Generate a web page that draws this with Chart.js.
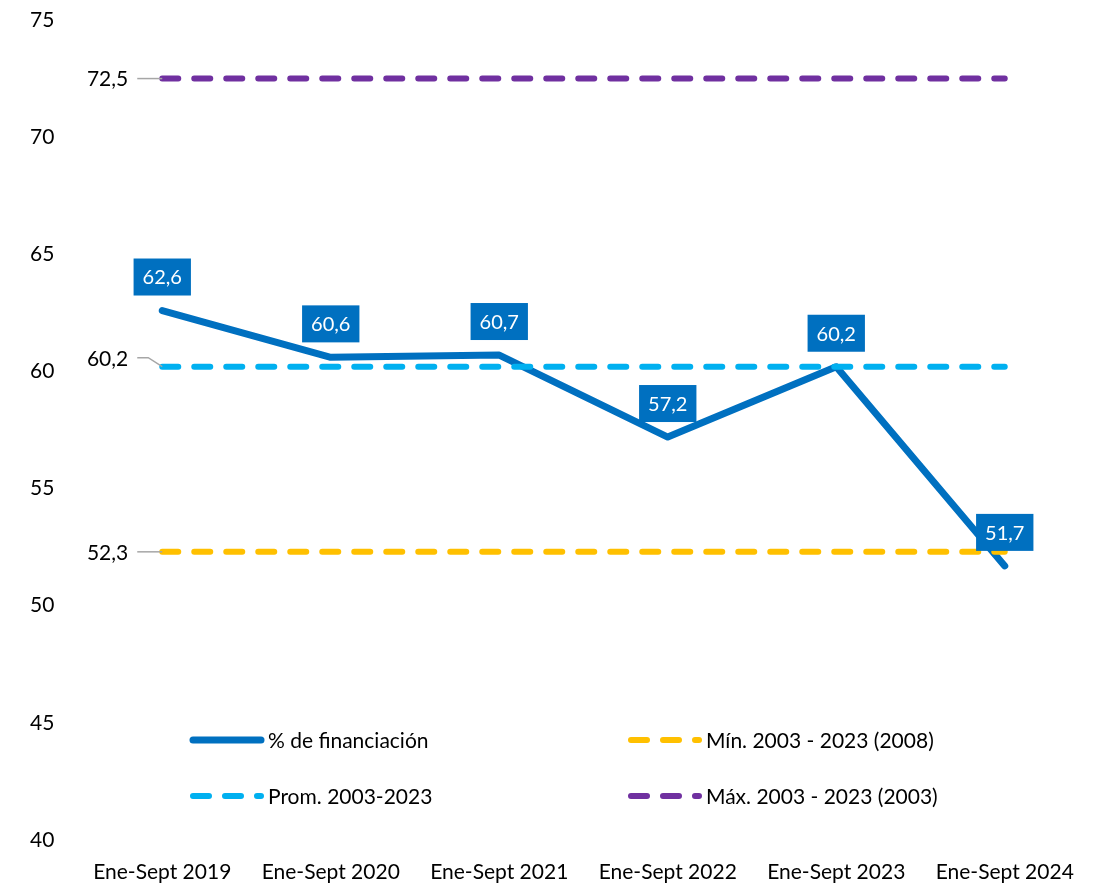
<!DOCTYPE html>
<html>
<head>
<meta charset="utf-8">
<script src="https://cdn.jsdelivr.net/npm/chart.js@4.4.1/dist/chart.umd.min.js"></script>
<style>
  html, body { margin: 0; padding: 0; background: #fff; }
  #wrap { width: 1098px; height: 886px; }
</style>
</head>
<body>
<div id="wrap"><canvas id="chart" width="1098" height="886"></canvas></div>
<script>
// ---------------- datos ----------------
const categories = ['Ene-Sept 2019', 'Ene-Sept 2020', 'Ene-Sept 2021', 'Ene-Sept 2022', 'Ene-Sept 2023', 'Ene-Sept 2024'];
const financiacion = [62.6, 60.6, 60.7, 57.2, 60.2, 51.7];
const promedio = [60.2, 60.2, 60.2, 60.2, 60.2, 60.2];
const minimo = [52.3, 52.3, 52.3, 52.3, 52.3, 52.3];
const maximo = [72.5, 72.5, 72.5, 72.5, 72.5, 72.5];
const yMin = 40, yMax = 75, yStep = 5;

const FONT = 'Lato, "Open Sans", sans-serif';
const BLUE = '#0070C0', LIGHT = '#00B0F0', GOLD = '#FFC000', PURPLE = '#7030A0';
const fmt = v => v.toFixed(1).replace('.', ',');

// ---------------- etiquetas de datos ----------------
const labelsPlugin = {
  id: 'labels',
  afterDatasetsDraw(chart) {
    const c = chart.ctx;
    c.save();
    c.textBaseline = 'middle';

    // cajas azules sobre la serie principal
    c.font = '20px ' + FONT;
    const meta = chart.getDatasetMeta(0);
    meta.data.forEach((pt, i) => {
      const txt = fmt(financiacion[i]);
      const w = c.measureText(txt).width + 18;
      const h = 37;
      const bx = pt.x - w / 2, by = pt.y - 15 - h;
      c.fillStyle = BLUE;
      c.fillRect(bx, by, w, h);
      c.fillStyle = '#fff';
      c.textAlign = 'center';
      c.fillText(txt, pt.x, by + h / 2 + 1);
    });

    // etiquetas a la izquierda de las líneas de referencia
    c.font = '21px ' + FONT;
    const refs = [[3, maximo[0], 0], [2, promedio[0], -9], [1, minimo[0], 0]];
    refs.forEach(([di, v, dy]) => {
      const p = chart.getDatasetMeta(di).data[0];
      c.strokeStyle = '#A6A6A6';
      c.lineWidth = 1.5;
      c.beginPath();
      if (dy) {
        c.moveTo(p.x - 25, p.y + dy);
        c.lineTo(p.x - 14, p.y + dy);
        c.lineTo(p.x, p.y);
      } else {
        c.moveTo(p.x - 25, p.y);
        c.lineTo(p.x, p.y);
      }
      c.stroke();
      c.fillStyle = '#000';
      c.textAlign = 'right';
      c.fillText(fmt(v), p.x - 34, p.y + dy + 1);
    });
    c.restore();
  }
};

// ---------------- leyenda dentro del gráfico ----------------
const legendItems = [
  { text: '% de financiación', color: BLUE, dash: [], x: 193, y: 740 },
  { text: 'Mín. 2003 - 2023 (2008)', color: GOLD, dash: [16, 16], x: 631, y: 740 },
  { text: 'Prom. 2003-2023', color: LIGHT, dash: [16, 16], x: 193, y: 796 },
  { text: 'Máx. 2003 - 2023 (2003)', color: PURPLE, dash: [16, 16], x: 631, y: 796 }
];
const legendPlugin = {
  id: 'legendInside',
  afterDraw(chart) {
    const c = chart.ctx;
    c.save();
    legendItems.forEach(it => {
      c.strokeStyle = it.color;
      c.lineWidth = it.dash.length ? 6 : 7;
      c.lineCap = 'round';
      c.setLineDash(it.dash);
      c.beginPath();
      c.moveTo(it.x, it.y);
      c.lineTo(it.x + 68, it.y);
      c.stroke();
      c.setLineDash([]);
      c.fillStyle = '#000';
      c.font = '21px ' + FONT;
      c.textAlign = 'left';
      c.textBaseline = 'middle';
      c.fillText(it.text, it.x + 75, it.y + 1);
    });
    c.restore();
  }
};

function dashed(label, data, color) {
  return {
    label, data,
    borderColor: color, backgroundColor: color,
    borderWidth: 6, borderDash: [16, 16], borderCapStyle: 'round',
    pointRadius: 0, tension: 0, order: 1
  };
}

new Chart(document.getElementById('chart'), {
  type: 'line',
  data: {
    labels: categories,
    datasets: [
      { label: '% de financiación', data: financiacion, borderColor: BLUE, backgroundColor: BLUE,
        borderWidth: 7, borderCapStyle: 'round', borderJoinStyle: 'round', pointRadius: 0, tension: 0, order: 2 },
      dashed('Mín. 2003 - 2023 (2008)', minimo, GOLD),
      dashed('Prom. 2003-2023', promedio, LIGHT),
      dashed('Máx. 2003 - 2023 (2003)', maximo, PURPLE)
    ]
  },
  options: {
    responsive: false,
    animation: false,
    layout: { padding: { left: 30, right: 9, top: 20, bottom: 0 } },
    plugins: { legend: { display: false }, tooltip: { enabled: false } },
    scales: {
      x: {
        offset: true,
        grid: { display: false, drawTicks: false },
        border: { display: false },
        ticks: { color: '#000', font: { size: 21, family: FONT }, padding: 20, maxRotation: 0 },
        afterFit(s) { s.height = 46; }
      },
      y: {
        min: yMin, max: yMax,
        grid: { display: false, drawTicks: false },
        border: { display: false },
        ticks: { stepSize: yStep, color: '#000', font: { size: 21, family: FONT }, crossAlign: 'far', padding: 0 },
        afterFit(s) { s.width = 48; }
      }
    }
  },
  plugins: [labelsPlugin, legendPlugin]
});
</script>
</body>
</html>
